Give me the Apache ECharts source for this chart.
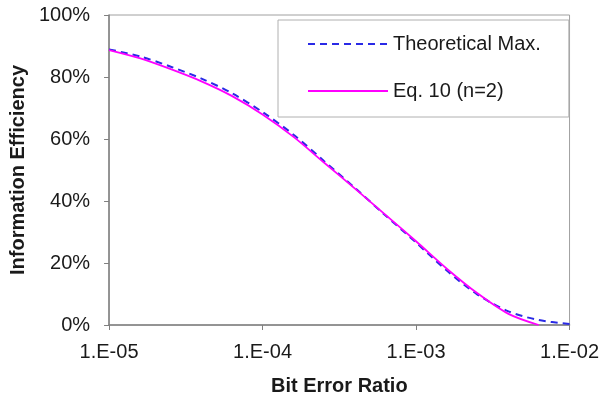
<!DOCTYPE html>
<html><head><meta charset="utf-8">
<script src="https://cdn.jsdelivr.net/npm/echarts@6/dist/echarts.min.js"></script>
<style>html,body{margin:0;padding:0;background:#fff}#c{width:602px;height:402px}</style>
</head><body><div id="c"></div>
<script>
var berValues = [1.0e-5, 1.6e-5, 2.5e-5, 4.0e-5, 6.3e-5, 1.0e-4, 1.6e-4, 2.5e-4, 4.0e-4, 6.3e-4, 1.0e-3, 1.6e-3, 2.5e-3, 4.0e-3, 6.3e-3, 1.0e-2];
var theoreticalMax = [88.9, 86.6, 83.4, 79.5, 74.8, 68.7, 61.3, 53.0, 44.2, 35.4, 26.6, 17.4, 9.9, 4.4, 1.6, 0.3];
var eq10n2 = [88.7, 86.0, 82.6, 78.6, 73.9, 67.9, 60.6, 52.5, 44.0, 35.6, 27.0, 18.0, 10.3, 3.6, 0.0, null];
var xTickExps = ['1.E-05', '1.E-04', '1.E-03', '1.E-02'];
var seriesNames = ['Theoretical Max.', 'Eq. 10 (n=2)'];

function pairs(ys) {
  var out = [];
  for (var i = 0; i < berValues.length; i++) if (ys[i] !== null) out.push([berValues[i], ys[i]]);
  return out;
}
var font = 'Arial, "Liberation Sans", sans-serif';
var chart = echarts.init(document.getElementById('c'), null, {renderer: 'canvas'});
chart.setOption({
  animation: false,
  backgroundColor: '#fff',
  grid: {left: 107, right: 32, top: 15, bottom: 77, show: true, borderColor: '#a0a0a0', borderWidth: 1},
  legend: {
    orient: 'vertical', left: 278, top: 20,
    padding: [14, 28, 16, 29],
    itemWidth: 80, itemHeight: 20, itemGap: 27,
    borderColor: '#b0b0b0', borderWidth: 1,
    itemStyle: {opacity: 0},
    textStyle: {fontFamily: font, fontSize: 20, color: '#1a1a1a'},
    data: seriesNames
  },
  xAxis: {
    type: 'log', logBase: 10, min: 1e-5, max: 1e-2,
    name: 'Bit Error Ratio', nameLocation: 'middle', nameGap: 51,
    nameTextStyle: {fontFamily: font, fontSize: 20, fontWeight: 'bold', color: '#1a1a1a'},
    axisLine: {lineStyle: {color: '#808080', width: 1.5}},
    axisTick: {show: true, inside: false, length: 5, lineStyle: {color: '#808080'}},
    minorTick: {show: false},
    splitLine: {show: false},
    axisLabel: {
      margin: 17, fontFamily: font, fontSize: 20, color: '#1a1a1a',
      formatter: function (v) { var e = Math.round(-Math.log10(v)); return xTickExps[5 - e] || ''; }
    }
  },
  yAxis: {
    type: 'value', min: 0, max: 100, interval: 20,
    name: 'Information Efficiency', nameLocation: 'middle', nameGap: 77,
    nameTextStyle: {fontFamily: font, fontSize: 20, fontWeight: 'bold', color: '#1a1a1a'},
    axisLine: {show: true, lineStyle: {color: '#808080', width: 1.5}},
    axisTick: {show: true, inside: false, length: 5, lineStyle: {color: '#808080'}},
    splitLine: {show: false},
    axisLabel: {margin: 19, fontFamily: font, fontSize: 20, color: '#1a1a1a', formatter: '{value}%'}
  },
  series: [
    {
      name: seriesNames[0], type: 'line', data: pairs(theoreticalMax),
      smooth: 0.3, symbol: 'none', showSymbol: false, z: 3,
      lineStyle: {color: '#2a2ae6', width: 2, type: [7, 5]},
      itemStyle: {color: 'rgba(0,0,0,0)'}
    },
    {
      name: seriesNames[1], type: 'line', data: pairs(eq10n2),
      smooth: 0.3, symbol: 'none', showSymbol: false, z: 4,
      lineStyle: {color: '#ff00ff', width: 1.8},
      itemStyle: {color: 'rgba(0,0,0,0)'}
    }
  ]
});
</script></body></html>
